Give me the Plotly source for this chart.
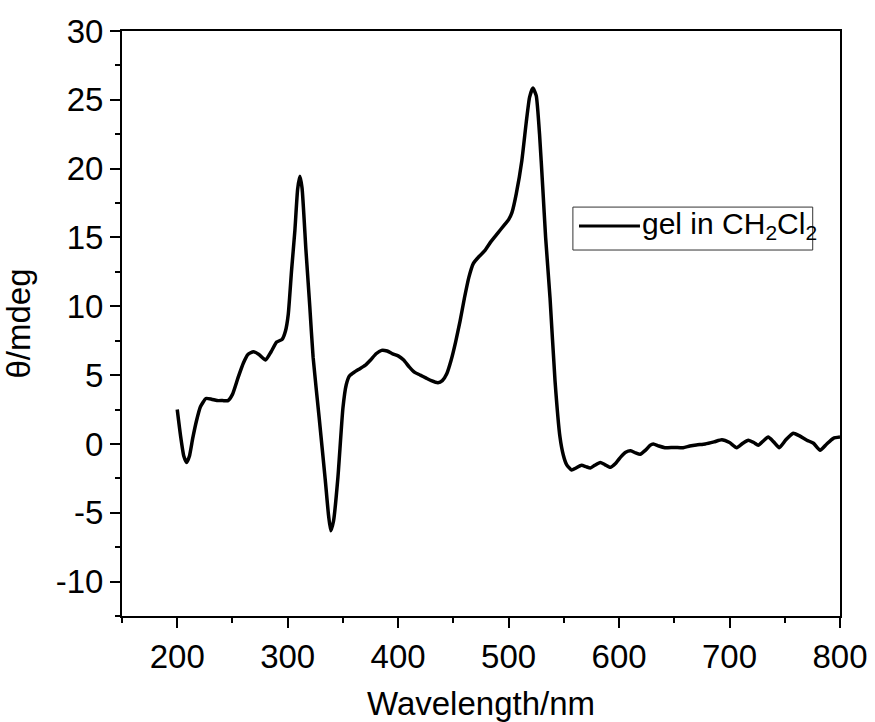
import plotly.graph_objects as go

wavelength = [200, 203, 206, 208.5, 211, 214, 217.5, 221, 226, 231, 236, 241, 246, 250, 255, 260, 264, 269,
              274, 280, 285, 290, 295, 298, 300.5, 303.5, 306.5, 309, 311, 313, 316.5, 320, 323, 328.5, 334,
              337, 339, 341.5, 345.5, 350, 353, 356, 360, 365, 370, 375, 380, 385, 390, 395, 400, 405, 410,
              415, 420, 425, 430, 436, 440, 444, 448, 452, 456, 460, 464, 468, 473, 478, 484, 490, 496, 500,
              503, 507, 512, 516, 519, 522, 525, 528, 531, 533.5, 537.5, 542, 546.5, 549.5, 552.5, 557, 561,
              566, 570, 574, 578, 583, 587, 592, 597, 602, 606, 610.5, 615, 619, 624, 628, 631, 636, 641.5,
              650, 658, 664, 670, 678, 686, 693, 700, 706.5, 712, 717, 722, 726, 731, 735, 740, 745, 751,
              757.7, 763, 770, 776, 782, 788, 794, 800]
theta = [2.5, 0.6, -0.9, -1.35, -0.9, 0.4, 1.7, 2.7, 3.3, 3.25, 3.15, 3.15, 3.15, 3.6, 4.8, 5.9, 6.5, 6.7,
         6.5, 6.1, 6.7, 7.4, 7.6, 8.2, 9.4, 12.6, 15.5, 18.5, 19.45, 18.6, 14.1, 10.0, 6.3, 1.9, -2.6,
         -5.2, -6.3, -5.6, -2.4, 2.6, 4.3, 4.95, 5.2, 5.45, 5.7, 6.1, 6.55, 6.8, 6.75, 6.55, 6.4, 6.1, 5.6,
         5.2, 5.0, 4.8, 4.6, 4.45, 4.6, 5.1, 6.1, 7.4, 8.9, 10.6, 12.1, 13.1, 13.6, 14.0, 14.7, 15.3, 15.9, 16.3,
         16.8, 18.2, 20.6, 23.4, 25.2, 25.85, 25.3, 22.5, 18.5, 15.0, 10.6, 4.6, 0.5, -0.8, -1.5, -1.9, -1.75,
         -1.55, -1.65, -1.75, -1.55, -1.35, -1.5, -1.7, -1.4, -0.9, -0.6, -0.5, -0.65, -0.75, -0.45, -0.1, 0.0, -0.15, -0.27,
         -0.25, -0.27, -0.15, -0.07, 0.0, 0.15, 0.3, 0.1, -0.27, 0.05, 0.27, 0.1, -0.1, 0.25, 0.5, 0.15, -0.27, 0.3,
         0.78, 0.6, 0.27, 0.05, -0.46, 0.0, 0.41, 0.5]

x_tick_vals = [200, 300, 400, 500, 600, 700, 800]
x_tick_text = ["200", "300", "400", "500", "600", "700", "800"]
y_tick_vals = [-10, -5, 0, 5, 10, 15, 20, 25, 30]
y_tick_text = ["-10", "-5", "0", "5", "10", "15", "20", "25", "30"]

series_name = "gel in CH<sub>2</sub>Cl<sub>2</sub>"
x_title = "Wavelength/nm"
y_title = "θ/mdeg"

FONT = "Arial, 'Liberation Sans', sans-serif"

fig = go.Figure()
fig.add_trace(go.Scatter(x=wavelength, y=theta, mode="lines", name="gel in CH2Cl2",
                         line=dict(color="black", width=3.5, shape="spline", smoothing=0.5),
                         showlegend=False))

axis_common = dict(
    showgrid=False, zeroline=False, showline=True, linecolor="black", linewidth=2,
    mirror=True, ticks="outside", ticklen=10, tickwidth=2, tickcolor="black",
    tickfont=dict(family=FONT, size=33, color="black"), automargin=False,
)

fig.update_xaxes(range=[150, 800], tickmode="array", tickvals=x_tick_vals, ticktext=x_tick_text,
                 minor=dict(dtick=50, tick0=0, ticks="outside", ticklen=5, tickwidth=2, tickcolor="black"),
                 title=dict(text=x_title, font=dict(family=FONT, size=33, color="black"), standoff=18),
                 **axis_common)
fig.update_yaxes(range=[-12.5, 30], tickmode="array", tickvals=y_tick_vals, ticktext=y_tick_text,
                 minor=dict(dtick=2.5, tick0=0, ticks="outside", ticklen=5, tickwidth=2, tickcolor="black"),
                 title=dict(text=y_title, font=dict(family=FONT, size=33, color="black"), standoff=16),
                 **axis_common)

# legend box (drawn manually to match the long line sample)
fig.add_shape(type="rect", xref="paper", yref="paper", x0=0.628, x1=0.962, y0=0.6256, y1=0.699,
              line=dict(color="#333333", width=1), fillcolor="rgba(0,0,0,0)")
fig.add_shape(type="line", xref="paper", yref="paper", x0=0.6365, x1=0.7214, y0=0.6667, y1=0.6667,
              line=dict(color="black", width=3))
fig.add_annotation(xref="paper", yref="paper", x=0.7214, y=0.6667, xanchor="left", yanchor="middle",
                   text=series_name, showarrow=False,
                   font=dict(family=FONT, size=30, color="black"))

fig.update_layout(
    width=875, height=722,
    margin=dict(l=122, r=35, t=31, b=106),
    paper_bgcolor="white", plot_bgcolor="white",
    font=dict(family=FONT, color="black"),
)

fig.write_html("out.html")
